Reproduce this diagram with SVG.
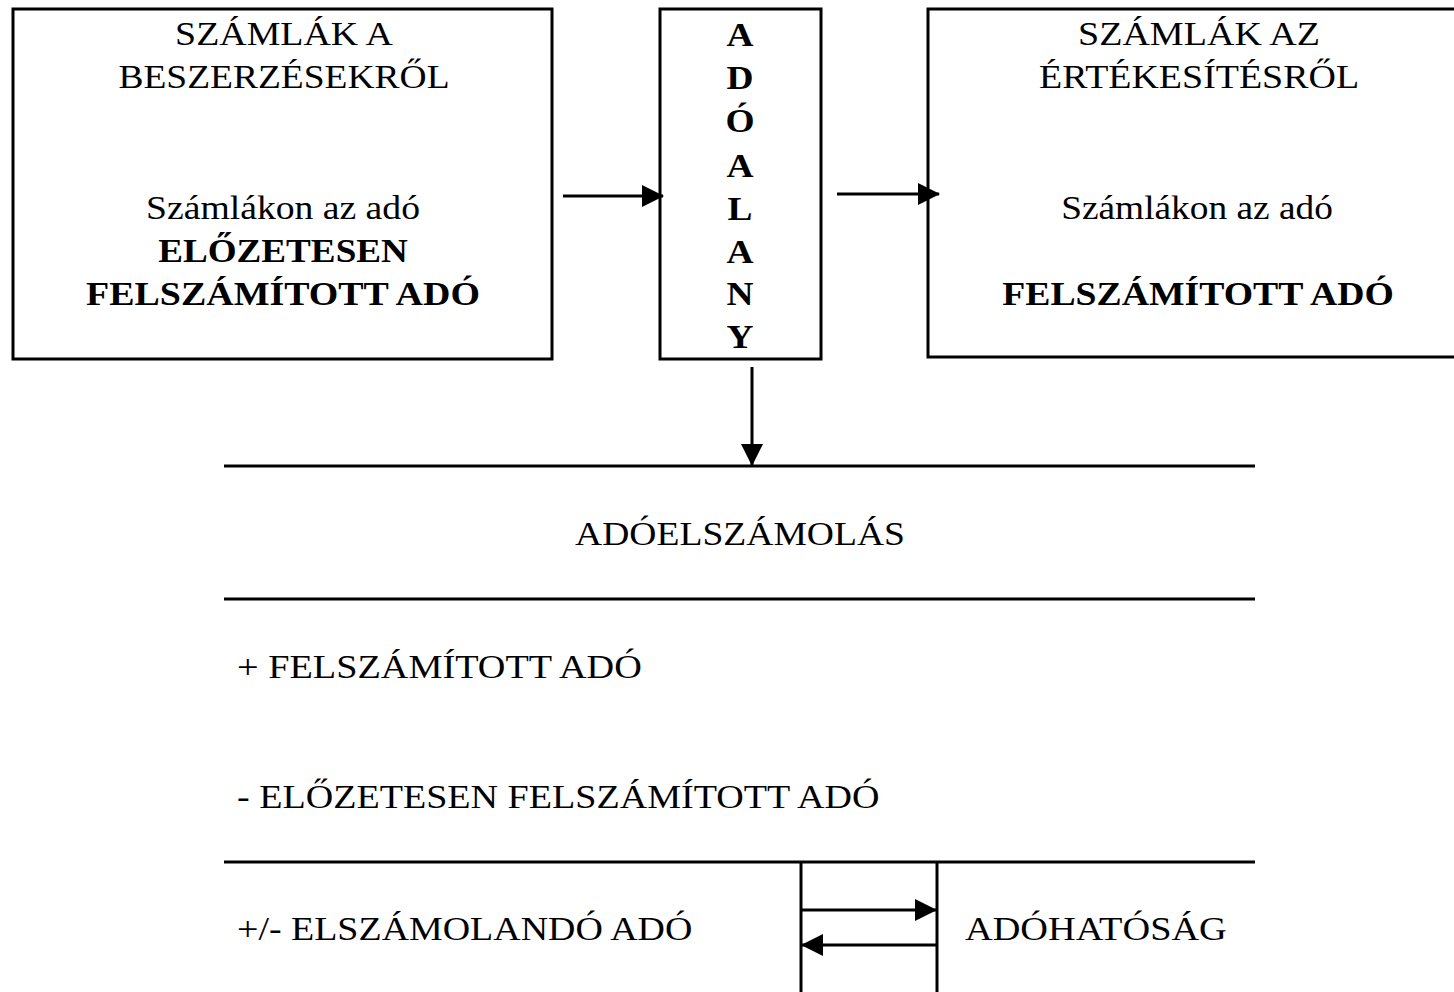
<svg xmlns="http://www.w3.org/2000/svg" width="1454" height="992" viewBox="0 0 1454 992">
<style>
text{font-family:"Liberation Serif","Times New Roman",serif;font-size:34px;fill:#000}
.b{font-weight:bold}
.m{text-anchor:middle}
.box{fill:#fff;stroke:#000;stroke-width:3}
.ln{stroke:#000;stroke-width:3;fill:none}
</style>
<defs>
<marker id="ah" viewBox="0 0 22 22" refX="21" refY="11" markerWidth="22" markerHeight="22" markerUnits="userSpaceOnUse" orient="auto">
<path d="M0,0 L22,11 L0,22 Z" fill="#000"/>
</marker>
</defs>
<rect width="1454" height="992" fill="#fff"/>
<g id="beszerzes">
<rect class="box" x="13" y="9" width="539" height="350"/>
<text class="m" transform="matrix(1.1 0 0 1 284 45)" textLength="198" lengthAdjust="spacingAndGlyphs">SZÁMLÁK A</text>
<text class="m" transform="matrix(1.1 0 0 1 284 88)" textLength="301" lengthAdjust="spacingAndGlyphs">BESZERZÉSEKRŐL</text>
<text class="m" transform="matrix(1.1 0 0 1 283 219)" textLength="249" lengthAdjust="spacingAndGlyphs">Számlákon az adó</text>
<text class="m b" transform="matrix(1.1 0 0 1 283 262)" textLength="227" lengthAdjust="spacingAndGlyphs">ELŐZETESEN</text>
<text class="m b" transform="matrix(1.1 0 0 1 283 305)" textLength="358" lengthAdjust="spacingAndGlyphs">FELSZÁMÍTOTT ADÓ</text>
</g>
<g id="adoalany">
<rect class="box" x="660" y="9" width="161" height="350"/>
<text class="m b" transform="matrix(1.1 0 0 1 740 46)">A</text>
<text class="m b" transform="matrix(1.1 0 0 1 740 89)">D</text>
<text class="m b" transform="matrix(1.1 0 0 1 740 132)">Ó</text>
<text class="m b" transform="matrix(1.1 0 0 1 740 177)">A</text>
<text class="m b" transform="matrix(1.1 0 0 1 740 220)">L</text>
<text class="m b" transform="matrix(1.1 0 0 1 740 263)">A</text>
<text class="m b" transform="matrix(1.1 0 0 1 740 305)">N</text>
<text class="m b" transform="matrix(1.1 0 0 1 740 348)">Y</text>
</g>
<g id="ertekesites">
<rect class="box" x="928" y="9" width="540" height="348"/>
<text class="m" transform="matrix(1.1 0 0 1 1199 45)" textLength="220" lengthAdjust="spacingAndGlyphs">SZÁMLÁK AZ</text>
<text class="m" transform="matrix(1.1 0 0 1 1199 88)" textLength="291" lengthAdjust="spacingAndGlyphs">ÉRTÉKESÍTÉSRŐL</text>
<text class="m" transform="matrix(1.1 0 0 1 1197 219)" textLength="247" lengthAdjust="spacingAndGlyphs">Számlákon az adó</text>
<text class="m b" transform="matrix(1.1 0 0 1 1198 305)" textLength="356" lengthAdjust="spacingAndGlyphs">FELSZÁMÍTOTT ADÓ</text>
</g>
<g id="adoelszamolas">
<line class="ln" x1="224" y1="466" x2="1255" y2="466"/>
<text class="m" transform="matrix(1.1 0 0 1 740 545)" textLength="300" lengthAdjust="spacingAndGlyphs">ADÓELSZÁMOLÁS</text>
<line class="ln" x1="224" y1="599" x2="1255" y2="599"/>
<text transform="matrix(1.1 0 0 1 237 678)" textLength="368" lengthAdjust="spacingAndGlyphs">+ FELSZÁMÍTOTT ADÓ</text>
<text transform="matrix(1.1 0 0 1 237 808)" textLength="584" lengthAdjust="spacingAndGlyphs">- ELŐZETESEN FELSZÁMÍTOTT ADÓ</text>
<line class="ln" x1="224" y1="862" x2="1255" y2="862"/>
<text transform="matrix(1.1 0 0 1 237 940)" textLength="414" lengthAdjust="spacingAndGlyphs">+/- ELSZÁMOLANDÓ ADÓ</text>
</g>
<g id="adohatosag">
<line class="ln" x1="937" y1="862" x2="937" y2="992"/>
<text transform="matrix(1.1 0 0 1 965 940)" textLength="238" lengthAdjust="spacingAndGlyphs">ADÓHATÓSÁG</text>
</g>
<g id="connectors">
<line class="ln" x1="563" y1="196" x2="663" y2="196" marker-end="url(#ah)"/>
<line class="ln" x1="837" y1="194" x2="939" y2="194" marker-end="url(#ah)"/>
<line class="ln" x1="752" y1="367" x2="752" y2="465" marker-end="url(#ah)"/>
<line class="ln" x1="801" y1="862" x2="801" y2="992"/>
<line class="ln" x1="801" y1="910" x2="936" y2="910" marker-end="url(#ah)"/>
<line class="ln" x1="936" y1="945" x2="802" y2="945" marker-end="url(#ah)"/>
</g>
</svg>
